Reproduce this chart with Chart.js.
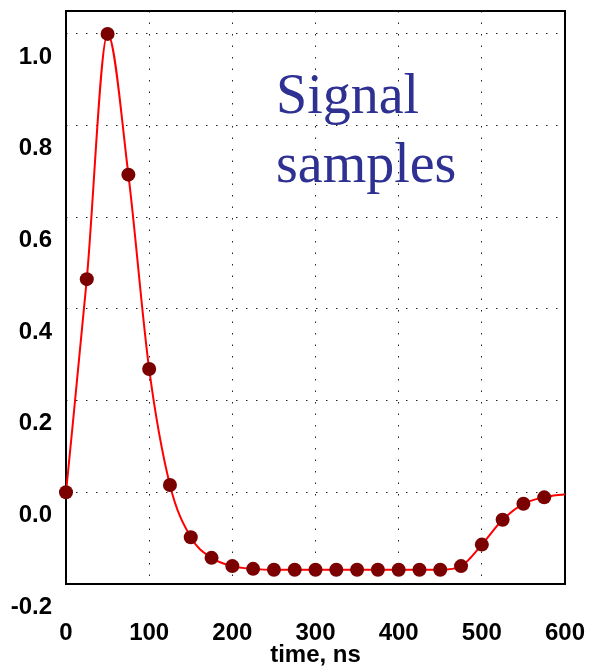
<!DOCTYPE html>
<html>
<head>
<meta charset="utf-8">
<script src="https://cdn.jsdelivr.net/npm/chart.js@4/dist/chart.umd.min.js"></script>
<style>
  html, body { margin: 0; padding: 0; background: #fff; }
  #wrap { width: 591px; height: 667px; position: relative; }
</style>
</head>
<body>
<div id="wrap"><canvas id="signalChart"></canvas></div>
<script>
// Sampled signal: time (ns) vs normalized amplitude
const sampleTimes = [0, 25, 50, 75, 100, 125, 150, 175, 200, 225, 250, 275,
                     300, 325, 350, 375, 400, 425, 450, 475, 500, 525, 550, 575];
const sampleValues = [0.0, 0.465, 1.0, 0.693, 0.269, 0.016, -0.098, -0.143, -0.161, -0.167, -0.169, -0.169,
                      -0.169, -0.169, -0.169, -0.169, -0.169, -0.169, -0.169, -0.161, -0.114, -0.060, -0.025, -0.011];
// the fitted curve runs on to the right edge
const curveTimes = sampleTimes.concat([600]);
const curveValues = sampleValues.concat([-0.004]);

const xTicks = [0, 100, 200, 300, 400, 500, 600];
const yTicks = [-0.2, 0.0, 0.2, 0.4, 0.6, 0.8, 1.0];

const toPoints = (xs, ys) => xs.map((x, i) => ({ x: x, y: ys[i] }));

document.addEventListener('DOMContentLoaded', () => {
    const ctx = document.getElementById('signalChart');

    const labelFont = { family: '"Liberation Sans", Arial, sans-serif', size: 24, weight: 'bold' };
    const gridColor = '#222';

    new Chart(ctx, {
        type: 'scatter',
        data: {
            datasets: [
                {
                    label: 'samples',
                    data: toPoints(sampleTimes, sampleValues),
                    backgroundColor: '#7b0000',
                    borderColor: '#7b0000',
                    pointRadius: 7,
                    borderWidth: 0,
                    clip: false,
                    order: 1
                },
                {
                    label: 'curve',
                    data: toPoints(curveTimes, curveValues),
                    showLine: true,
                    borderColor: '#ff0000',
                    borderWidth: 2,
                    pointRadius: 0,
                    cubicInterpolationMode: 'monotone',
                    order: 2
                }
            ]
        },
        options: {
            responsive: true,
            maintainAspectRatio: false,
            animation: false,
            devicePixelRatio: 1,
            layout: { padding: { left: 0, top: 11, right: 26, bottom: 0 } },
            plugins: {
                legend: { display: false },
                tooltip: { enabled: false }
            },
            scales: {
                x: {
                    type: 'linear',
                    min: 0,
                    max: 600,
                    afterBuildTicks: (scale) => { scale.ticks = xTicks.map(v => ({ value: v })); },
                    afterFit: (scale) => { scale.height = 83; scale.paddingLeft = 0; scale.paddingRight = 0; },
                    grid: { color: gridColor, lineWidth: 1, drawTicks: false },
                    border: { display: false, dash: [1.5, 10] },
                    ticks: {
                        font: labelFont,
                        color: '#000',
                        padding: 35,
                        maxRotation: 0,
                        autoSkip: false
                    },
                    title: {
                        display: true,
                        text: 'time, ns',
                        color: '#000',
                        font: { family: '"Liberation Sans", Arial, sans-serif', size: 24, weight: 'bold', lineHeight: 1 },
                        padding: { top: 0, bottom: 0 }
                    }
                },
                y: {
                    type: 'linear',
                    min: -0.2,
                    max: 1.05,
                    afterBuildTicks: (scale) => { scale.ticks = yTicks.map(v => ({ value: v })); },
                    afterFit: (scale) => { scale.width = 66; scale.paddingTop = 0; scale.paddingBottom = 0; },
                    grid: { color: gridColor, lineWidth: 1, drawTicks: false },
                    border: { display: false, dash: [1.5, 8.5] },
                    ticks: {
                        font: labelFont,
                        color: '#000',
                        padding: 14,
                        labelOffset: 23,
                        callback: (v) => (Math.abs(v) < 1e-9 ? 0 : v).toFixed(1)
                    }
                }
            }
        },
        plugins: [{
            // solid frame round the plot and the in-plot caption
            id: 'frameAndCaption',
            beforeDatasetsDraw: (chart) => {
                const { ctx, chartArea: a } = chart;
                ctx.save();
                ctx.strokeStyle = '#000';
                ctx.lineWidth = 2;
                ctx.strokeRect(a.left, a.top, a.right - a.left, a.bottom - a.top);
                ctx.restore();
            },
            afterDraw: (chart) => {
                const { ctx, chartArea: a } = chart;
                ctx.save();
                ctx.fillStyle = '#2e3192';
                ctx.font = '56px "Liberation Serif", "Times New Roman", serif';
                ctx.textBaseline = 'alphabetic';
                ctx.textAlign = 'left';
                ctx.fillText('Signal', a.left + 210, a.top + 102);
                ctx.fillText('samples', a.left + 210, a.top + 171);
                ctx.restore();
            }
        }]
    });
});
</script>
</body>
</html>
